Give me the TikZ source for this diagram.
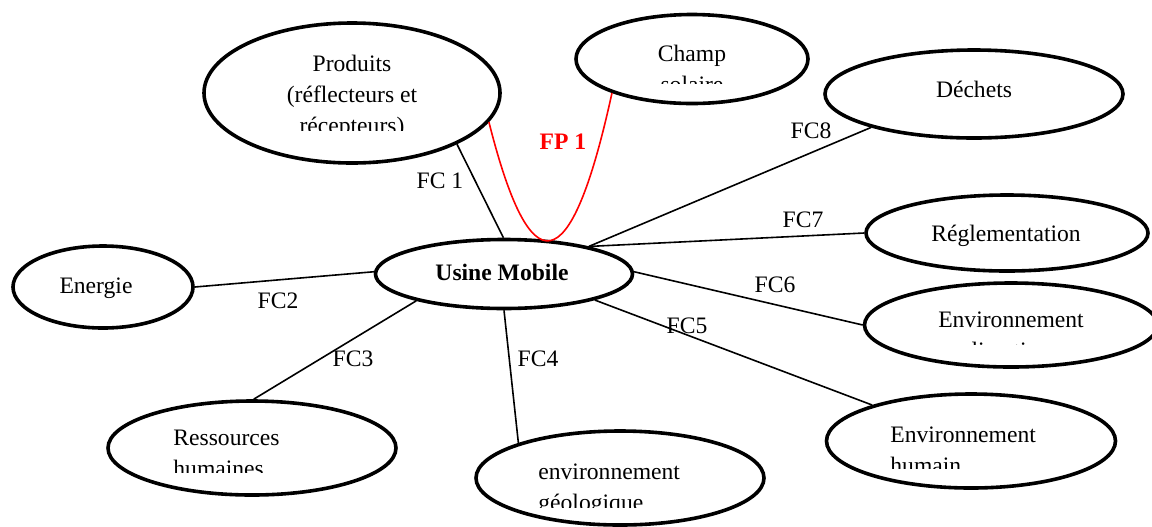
\documentclass[tikz,border=0pt]{standalone}
\usepackage{fontspec}
\setmainfont{Liberation Serif}
\usepackage{tikz}
\usetikzlibrary{shapes.geometric}
\newcommand{\txt}{\fontsize{11.8}{15.5}\selectfont}

\begin{document}
\begin{tikzpicture}[x=0.5pt, y=-0.5pt,
    bulle/.style={ellipse, draw=black, line width=1.8pt, inner sep=0pt},
    lbl/.style={inner sep=0pt, font=\txt},
    fc/.style={draw=black, line width=0.8pt},
    fp/.style={draw=red, line width=0.8pt}
]
\useasboundingbox (0,0) rectangle (1152,526);

% ellipses
\node[bulle, minimum width=148pt, minimum height=70pt] (prod) at (352,93) {};
\node[bulle, minimum width=116pt, minimum height=44.5pt] (champ) at (692,59) {};
\node[bulle, minimum width=149pt, minimum height=44pt] (dechets) at (974,94) {};
\node[bulle, minimum width=141pt, minimum height=38pt] (regl) at (1007,233) {};
\node[bulle, minimum width=146.5pt, minimum height=42pt] (clim) at (1011,325) {};
\node[bulle, minimum width=144.5pt, minimum height=47pt] (humain) at (971,441) {};
\node[bulle, minimum width=144pt, minimum height=47pt] (geol) at (620,478) {};
\node[bulle, minimum width=144pt, minimum height=47pt] (ress) at (252,448) {};
\node[bulle, minimum width=90pt, minimum height=41pt] (energie) at (103,287) {};
\node[bulle, minimum width=128.5pt, minimum height=34.5pt] (usine) at (504,274) {};

% textes
\node[lbl, anchor=base] (tprod1) at (352,71) {Produits};
\node[lbl, anchor=base] (tprod2) at (352,102) {(réflecteurs et};
\begin{scope}
  \clip (200,105) rectangle (505,130);
  \node[lbl, anchor=base] (tprod3) at (352,133) {récepteurs)};
\end{scope}
\node[lbl, anchor=base] (tchamp1) at (692,61) {Champ};
\begin{scope}
  \clip (575,65) rectangle (810,83);
  \node[lbl, anchor=base] (tchamp2) at (692,92) {solaire};
\end{scope}
\node[lbl, anchor=base] (tdechets) at (974,97) {Déchets};
\node[lbl, anchor=base] (tregl) at (1006,241) {Réglementation};
\node[lbl, anchor=base] (tclim1) at (1011,327) {Environnement};
\begin{scope}
  \clip (865,331) rectangle (1152,344);
  \node[lbl, anchor=base] (tclim2) at (1011,358) {climatique};
\end{scope}
\node[lbl, anchor=base west] (thum1) at (890,442) {Environnement};
\begin{scope}
  \clip (825,446) rectangle (1117,468);
  \node[lbl, anchor=base west] (thum2) at (890,473) {humain};
\end{scope}
\node[lbl, anchor=base west] (tgeol1) at (538,479) {environnement};
\begin{scope}
  \clip (475,483) rectangle (766,507);
  \node[lbl, anchor=base west] (tgeol2) at (538,510) {géologique};
\end{scope}
\node[lbl, anchor=base west] (tress1) at (173,445) {Ressources};
\begin{scope}
  \clip (107,449) rectangle (398,472);
  \node[lbl, anchor=base west] (tress2) at (173,476) {humaines};
\end{scope}
\node[lbl, anchor=base] (tenergie) at (96,293) {Energie};
\node[lbl, anchor=base, font=\txt\bfseries] (tusine) at (502,280) {Usine Mobile};

% liaisons
\draw[fc] (prod.-26) -- (usine.91);
\draw[fc] (energie.0) -- (usine.179);
\draw[fc] (usine.197) -- (ress.88);
\draw[fc] (usine.270) -- (geol.161);
\draw[fc] (usine.-16) -- (humain.160);
\draw[fc] (usine.1) -- (clim.180);
\draw[fc] (usine.18) -- (regl.180);
\draw[fc] (usine.18) -- (dechets.198);
\draw[fp] (prod.-12) .. controls (530,285) and (570,285) .. (champ.203);

% fonctions
\node[lbl, anchor=base] (fc1) at (440,188) {FC 1};
\node[lbl, anchor=base, text=red, font=\txt\bfseries] (fp1) at (563,149) {FP 1};
\node[lbl, anchor=base] (fc2) at (278,308) {FC2};
\node[lbl, anchor=base] (fc3) at (353,366) {FC3};
\node[lbl, anchor=base] (fc4) at (538,366) {FC4};
\node[lbl, anchor=base] (fc5) at (687,333) {FC5};
\node[lbl, anchor=base] (fc6) at (775,292) {FC6};
\node[lbl, anchor=base] (fc7) at (803,227) {FC7};
\node[lbl, anchor=base] (fc8) at (811,138) {FC8};
\end{tikzpicture}
\end{document}
